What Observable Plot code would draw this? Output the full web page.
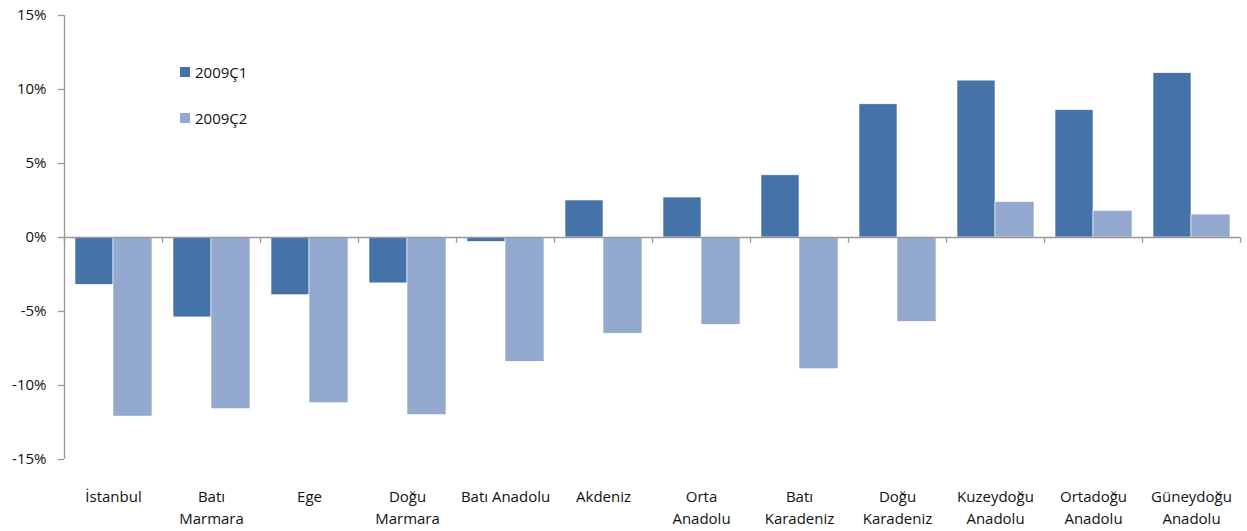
<!DOCTYPE html>
<html><head><meta charset="utf-8">
<script src="https://cdn.jsdelivr.net/npm/d3@7"></script>
<script src="https://cdn.jsdelivr.net/npm/@observablehq/plot@0.6"></script>
<style>
body{margin:0;background:#fff;font-family:"Open Sans",sans-serif}
#wrap{position:relative;width:1247px;height:531px;overflow:hidden}
.leg{position:absolute;left:180px;display:flex;align-items:center;font-size:15px;color:#111;font-family:"Open Sans",sans-serif}
.leg span.sw{display:inline-block;width:10px;height:10px;margin-right:5px}
</style></head><body><div id="wrap"></div>
<script>
const regions = ["İstanbul","Batı Marmara","Ege","Doğu Marmara","Batı Anadolu","Akdeniz","Orta Anadolu","Batı Karadeniz","Doğu Karadeniz","Kuzeydoğu Anadolu","Ortadoğu Anadolu","Güneydoğu Anadolu"];
const tickLabels = ["İstanbul","Batı\nMarmara","Ege","Doğu\nMarmara","Batı Anadolu","Akdeniz","Orta\nAnadolu","Batı\nKaradeniz","Doğu\nKaradeniz","Kuzeydoğu\nAnadolu","Ortadoğu\nAnadolu","Güneydoğu\nAnadolu"];
const seriesNames = ["2009Ç1","2009Ç2"];
const q1 = [-3.2,-5.4,-3.9,-3.1,-0.3,2.5,2.7,4.2,9.0,10.6,8.6,11.1];
const q2 = [-12.1,-11.6,-11.2,-12.0,-8.4,-6.5,-5.9,-8.9,-5.7,2.4,1.8,1.55];
const colors = ["#4572A7","#93A9CF"];
const yTicks = [-15,-10,-5,0,5,10,15];

const rows = regions.map((r,i)=>({region:r, q1:q1[i], q2:q2[i]}));
const labelOf = new Map(regions.map((r,i)=>[r,tickLabels[i]]));
const W = 1247, mL = 64, mR = 7;
const half = (W - mL - mR) / regions.length / 2;

const chart = Plot.plot({
  width: W, height: 531,
  marginTop: 15, marginBottom: 72, marginLeft: mL, marginRight: mR,
  style: {fontFamily: '"Open Sans", sans-serif', fontSize: "15px", color: "#111", background: "#fff"},
  x: {domain: regions, padding: 0, axis: null},
  y: {domain: [-15, 15], axis: null},
  marks: [
    Plot.barY(rows, {x: "region", y: "q1", fill: colors[0], insetLeft: 11, insetRight: half, stroke: "#fff", strokeWidth: 0.6}),
    Plot.barY(rows, {x: "region", y: "q2", fill: colors[1], insetLeft: half, insetRight: 10, stroke: "#fff", strokeWidth: 0.6}),
    Plot.ruleY([0], {stroke: "#999", strokeWidth: 1.3}),
    Plot.ruleX(regions, {x: d => d, dx: -half, y1: 0, y2: -0.4, stroke: "#999", strokeWidth: 1.3}),
    Plot.ruleX([regions[regions.length-1]], {x: d => d, dx: half, y1: 0, y2: -0.4, stroke: "#999", strokeWidth: 1.3}),
    Plot.ruleX([regions[0]], {x: d => d, dx: -half, y1: -15, y2: 15, stroke: "#999", strokeWidth: 1.3}),
    Plot.axisY({ticks: yTicks, tickFormat: d => d + "%", tickSize: 6, tickPadding: 12, stroke: "#999", strokeWidth: 1.3, fontSize: 15, label: null}),
    Plot.axisX({tickSize: 0, tickPadding: 27, tickFormat: d => labelOf.get(d), lineHeight: 1.45, fontSize: 15, label: null})
  ]
});
const wrap = document.getElementById("wrap");
wrap.appendChild(chart);
seriesNames.forEach((s,i)=>{
  const d = document.createElement("div");
  d.className = "leg";
  d.style.top = (62 + i*46) + "px";
  d.innerHTML = `<span class="sw" style="background:${colors[i]}"></span>${s}`;
  wrap.appendChild(d);
});
</script></body></html>
